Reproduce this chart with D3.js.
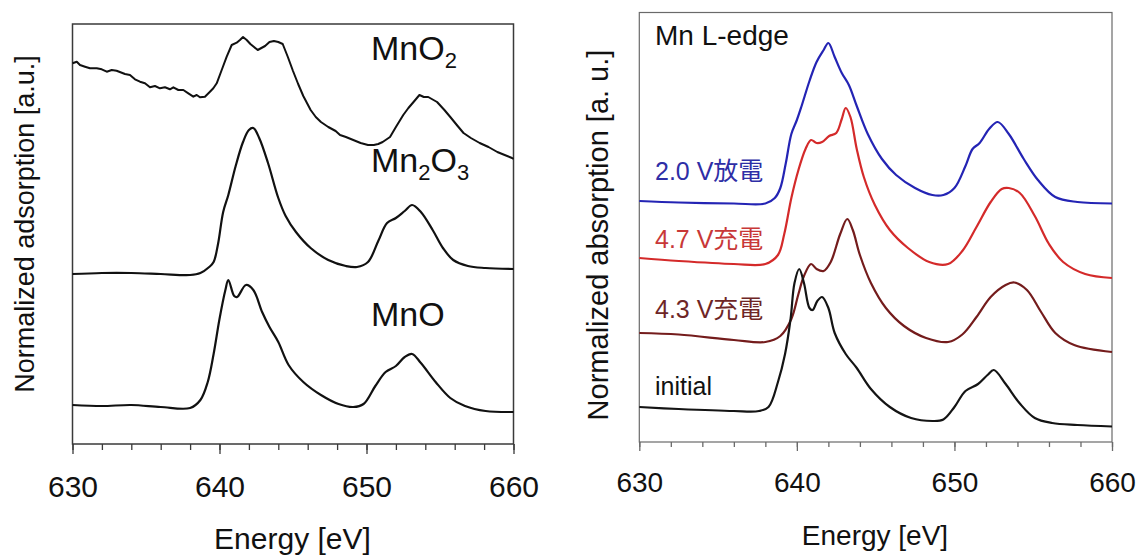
<!DOCTYPE html>
<html>
<head>
<meta charset="utf-8">
<script src="https://cdn.jsdelivr.net/npm/d3@7"></script>
<style>
  html, body { margin: 0; padding: 0; background: #fff; }
  svg { display: block; }
  text { font-family: "Liberation Sans", Arial, "Noto Sans CJK JP", sans-serif; }
</style>
</head>
<body>
<svg id="chart" width="1139" height="555"></svg>
<script>
// ---------- DATA ----------
const energyDomain = [630, 660];
const majorTicks = [630, 640, 650, 660];
const minorTicks = [630, 632, 634, 636, 638, 640, 642, 644, 646, 648, 650, 652, 654, 656, 658, 660];

// Left panel: reference oxides  [energy eV, normalized adsorption a.u.]
const mno2 = [[630,3.807],[630.29,3.823],[630.51,3.79],[630.85,3.773],[631.19,3.757],[631.65,3.757],[631.99,3.747],[632.33,3.723],[632.67,3.74],[633.0,3.733],[633.35,3.713],[633.57,3.70],[633.91,3.69],[634.25,3.647],[634.59,3.623],[634.93,3.607],[635.27,3.567],[635.61,3.58],[635.95,3.557],[636.29,3.567],[636.63,3.547],[636.86,3.567],[637.2,3.54],[637.54,3.54],[637.88,3.507],[638.22,3.473],[638.45,3.49],[638.67,3.467],[639.01,3.473],[639.35,3.523],[639.58,3.557],[639.81,3.607],[640.15,3.74],[640.49,3.873],[640.83,3.99],[641.17,4.013],[641.39,4.04],[641.6,4.07],[641.85,4.04],[642.1,4.0],[642.35,3.97],[642.6,3.94],[642.85,3.96],[643.1,3.98],[643.4,4.02],[643.7,4.03],[644.0,4.02],[644.3,4.0],[644.65,3.87],[645,3.73],[645.35,3.60],[645.7,3.48],[646.2,3.34],[646.55,3.27],[646.9,3.22],[647.4,3.17],[647.9,3.13],[648.2,3.09],[648.6,3.07],[649.1,3.04],[649.6,3.01],[650.1,2.99],[650.5,2.99],[650.8,3.0],[651.1,3.02],[651.6,3.07],[652.0,3.17],[652.5,3.29],[652.85,3.36],[653.2,3.42],[653.6,3.49],[653.9,3.47],[654.2,3.47],[654.8,3.42],[655.3,3.34],[655.7,3.27],[656.2,3.18],[656.6,3.11],[657.1,3.06],[657.7,3.01],[658.3,2.97],[658.9,2.92],[659.4,2.89],[659.9,2.86],[660,2.85]];
const mn2o3 = [[630,1.70],[632,1.71],[634,1.71],[636,1.70],[638,1.69],[638.7,1.71],[639.3,1.77],[639.6,1.82],[639.9,2.0],[640.25,2.32],[640.6,2.49],[641.1,2.78],[641.6,3.02],[642.0,3.14],[642.3,3.16],[642.7,3.06],[643.3,2.81],[644.0,2.46],[644.5,2.28],[645.2,2.12],[646.2,1.96],[647.4,1.84],[648.6,1.78],[649.35,1.77],[650.1,1.82],[650.8,2.03],[651.4,2.21],[652.0,2.26],[652.6,2.33],[653.1,2.39],[653.7,2.32],[654.5,2.14],[655.2,1.96],[655.9,1.84],[656.9,1.78],[658.1,1.76],[660,1.75]];
const mno = [[630,0.39],[632,0.38],[634,0.39],[636,0.37],[638,0.36],[638.7,0.44],[639.2,0.62],[639.6,0.90],[640.0,1.25],[640.4,1.54],[640.6,1.64],[641.0,1.48],[641.2,1.47],[641.8,1.59],[642.3,1.54],[642.9,1.32],[643.4,1.17],[644.0,1.02],[644.7,0.79],[645.7,0.62],[646.9,0.49],[648.1,0.40],[649.1,0.37],[649.8,0.40],[650.6,0.58],[651.3,0.72],[652.0,0.78],[652.6,0.87],[653.1,0.90],[653.7,0.81],[654.7,0.62],[655.7,0.46],[656.7,0.38],[658.1,0.33],[660,0.32]];

// Right panel: Mn L-edge during cycling  [energy eV, normalized absorption a.u.]
const v20discharge = [[630,2.41],[632.5,2.395],[636,2.385],[638,2.385],[638.6,2.44],[638.95,2.54],[639.3,2.79],[639.65,3.08],[640.0,3.22],[640.3,3.36],[640.8,3.61],[641.25,3.80],[641.7,3.92],[642.0,3.99],[642.4,3.85],[642.85,3.69],[643.3,3.57],[643.8,3.36],[644.5,3.08],[645.4,2.83],[646.3,2.67],[647.5,2.54],[648.6,2.47],[649.3,2.47],[650.0,2.54],[650.7,2.76],[651.15,2.93],[651.6,2.99],[652.2,3.13],[652.75,3.20],[653.45,3.08],[654.4,2.83],[655.3,2.62],[656.4,2.45],[657.8,2.40],[660,2.385]];
const v47charge = [[630,1.84],[632.5,1.81],[636,1.78],[638,1.78],[638.8,1.87],[639.2,2.08],[639.65,2.44],[640.1,2.72],[640.55,2.93],[640.9,3.02],[641.25,2.99],[641.6,3.0],[642.05,3.06],[642.5,3.09],[642.85,3.23],[643.1,3.34],[643.4,3.25],[643.8,2.93],[644.25,2.65],[644.95,2.37],[645.9,2.12],[647.05,1.94],[648.4,1.80],[649.6,1.78],[650.5,1.91],[651.4,2.15],[652.3,2.40],[653.0,2.53],[653.45,2.54],[654.15,2.49],[655.1,2.26],[656.0,1.98],[656.9,1.80],[658.3,1.68],[660,1.64]];
const v43charge = [[630,1.09],[632.5,1.075],[636,1.02],[638,1.0],[638.95,1.06],[639.65,1.23],[640.1,1.48],[640.45,1.66],[640.9,1.78],[641.25,1.73],[641.7,1.71],[642.15,1.80],[642.75,2.08],[643.2,2.23],[643.55,2.12],[644.0,1.87],[644.7,1.59],[645.65,1.34],[646.8,1.16],[648.2,1.04],[649.6,1.0],[650.5,1.075],[651.4,1.25],[652.3,1.45],[653.25,1.57],[653.8,1.595],[654.6,1.52],[655.5,1.30],[656.4,1.09],[657.6,0.97],[660,0.90]];
const initial = [[630,0.35],[632.5,0.33],[636,0.31],[637.6,0.31],[638.2,0.35],[638.8,0.60],[639.25,0.88],[639.6,1.23],[639.85,1.59],[640.15,1.73],[640.45,1.59],[640.8,1.34],[641.0,1.32],[641.3,1.41],[641.6,1.45],[642.0,1.34],[642.4,1.09],[643.1,0.88],[643.8,0.74],[644.7,0.53],[645.9,0.35],[647.25,0.24],[648.6,0.21],[649.3,0.225],[650.0,0.35],[650.7,0.51],[651.5,0.58],[652.1,0.67],[652.5,0.72],[653.25,0.58],[654.15,0.385],[655.1,0.24],[656.2,0.19],[657.8,0.17],[660,0.155]];

const leftLabels = ["MnO2", "Mn2O3", "MnO"];
const rightLabels = ["Mn L-edge", "2.0 V放電", "4.7 V充電", "4.3 V充電", "initial"];

// ---------- DRAW ----------
const svg = d3.select("#chart");

function panel(cfg) {
  const x = d3.scaleLinear().domain(energyDomain).range([cfg.x0, cfg.x1]);
  const y = d3.scaleLinear().domain(cfg.yDomain).range([cfg.y1, cfg.y0]);
  const g = svg.append("g");

  // minor ticks
  g.append("g")
    .attr("transform", `translate(0,${cfg.y1})`)
    .call(d3.axisBottom(x).tickValues(minorTicks).tickSize(cfg.minorLen).tickFormat(""))
    .call(s => s.select(".domain").remove())
    .call(s => s.selectAll("line").attr("stroke", cfg.frameColor).attr("stroke-width", 1.3));

  // major ticks + labels
  g.append("g")
    .attr("transform", `translate(0,${cfg.y1})`)
    .call(d3.axisBottom(x).tickValues(majorTicks).tickSize(cfg.majorLen).tickPadding(cfg.pad).tickFormat(d3.format("d")))
    .call(s => s.select(".domain").remove())
    .call(s => s.selectAll("line").attr("stroke", cfg.frameColor).attr("stroke-width", 1.3))
    .call(s => s.selectAll("text")
      .attr("font-family", '"Liberation Sans", Arial, sans-serif')
      .attr("font-size", cfg.tickFont).attr("fill", "#111"));

  // frame
  g.append("rect")
    .attr("x", cfg.x0).attr("y", cfg.y0)
    .attr("width", cfg.x1 - cfg.x0).attr("height", cfg.y1 - cfg.y0)
    .attr("fill", "none").attr("stroke", cfg.frameColor).attr("stroke-width", cfg.frameWidth);

  cfg.series.forEach(s => {
    const line = d3.line()
      .x(d => x(d[0])).y(d => y(d[1]))
      .curve(s.curve || d3.curveCatmullRom.alpha(0.5));
    g.append("path").datum(s.data)
      .attr("d", line)
      .attr("fill", "none")
      .attr("stroke", s.color)
      .attr("stroke-width", s.width || 2.2)
      .attr("stroke-linejoin", "round");
  });

  // axis titles
  g.append("text")
    .attr("x", cfg.xTitle[0]).attr("y", cfg.xTitle[1])
    .attr("text-anchor", "middle")
    .attr("font-size", cfg.titleFont).attr("fill", "#111")
    .text("Energy [eV]");
  g.append("text")
    .attr("transform", `translate(${cfg.yTitle[0]},${cfg.yTitle[1]}) rotate(-90)`)
    .attr("text-anchor", "middle")
    .attr("font-size", cfg.yTitleFont).attr("fill", "#111")
    .text(cfg.yTitleText);
  return { g, x, y };
}

const L = panel({
  x0: 72.5, x1: 513.5, y0: 24, y1: 444,
  yDomain: [0, 4.2],
  minorLen: 6, majorLen: 10, pad: 22, tickFont: 30,
  frameColor: "#3a3a3a", frameWidth: 1.5,
  xTitle: [292.5, 549], titleFont: 30,
  yTitle: [34, 224], yTitleFont: 27, yTitleText: "Normalized adsorption [a.u.]",
  series: [
    { data: mno2, color: "#111", width: 2, curve: d3.curveLinear },
    { data: mn2o3, color: "#111" },
    { data: mno, color: "#111" }
  ]
});

const R = panel({
  x0: 639.3, x1: 1112, y0: 12.5, y1: 442,
  yDomain: [0, 4.295],
  minorLen: 5, majorLen: 9, pad: 21, tickFont: 28,
  frameColor: "#6a6a6a", frameWidth: 1.2,
  xTitle: [875, 545], titleFont: 28,
  yTitle: [608, 235], yTitleFont: 29, yTitleText: "Normalized absorption [a. u.]",
  series: [
    { data: v20discharge, color: "#2424b4" },
    { data: v47charge, color: "#d42a2a" },
    { data: v43charge, color: "#741c1c" },
    { data: initial, color: "#141414" }
  ]
});

// Left panel compound labels (with subscripts)
function chem(g, x, y, parts, big, small) {
  const t = g.append("text").attr("x", x).attr("y", y).attr("font-size", big).attr("fill", "#111");
  parts.forEach(p => {
    if (p.sub) {
      t.append("tspan").attr("font-size", small).attr("dy", 8).text(p.t);
    } else {
      t.append("tspan").attr("font-size", big).attr("dy", p.after ? -8 : 0).text(p.t);
    }
  });
}
chem(L.g, 371, 60, [{ t: "MnO" }, { t: "2", sub: true }], 34, 22);
chem(L.g, 371, 172, [{ t: "Mn" }, { t: "2", sub: true }, { t: "O", after: true }, { t: "3", sub: true }], 34, 22);
chem(L.g, 371, 326, [{ t: "MnO" }], 34, 22);

// Right panel labels
const rl = [
  { t: rightLabels[0], y: 45, c: "#111", fs: 28 },
  { t: rightLabels[1], y: 180, c: "#2e2ea6", fs: 25 },
  { t: rightLabels[2], y: 248, c: "#c83838", fs: 25 },
  { t: rightLabels[3], y: 318, c: "#6e2626", fs: 25 },
  { t: rightLabels[4], y: 395, c: "#111", fs: 25 }
];
rl.forEach(d => {
  R.g.append("text").attr("x", 655).attr("y", d.y)
    .attr("font-size", d.fs).attr("fill", d.c)
    .attr("font-family", '"Liberation Sans", Arial, "Noto Sans CJK JP", sans-serif')
    .text(d.t);
});
</script>
</body>
</html>
